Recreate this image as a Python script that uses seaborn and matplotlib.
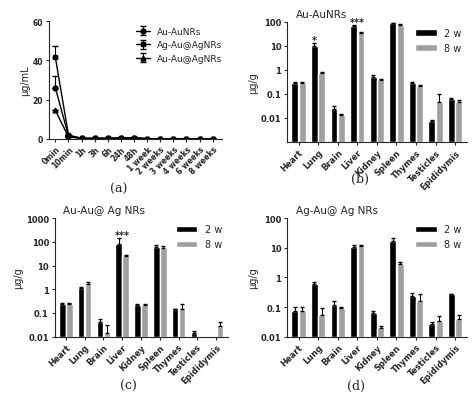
import numpy as np
import matplotlib
matplotlib.use("Agg")
import matplotlib.pyplot as plt
import seaborn as sns

sns.set_style("ticks")
plt.rcParams['font.family'] = ['DejaVu Sans']

# panel (a): blood concentration over time
times = ["0min", "10min", "1h", "3h", "6h", "24h", "48h", "1 week", "2 weeks",
         "3 weeks", "4 weeks", "6 weeks", "8 weeks"]
au_aunrs = [26, 1.5, 0.3, 0.3, 0.3, 0.4, 0.5, 0.1, 0.05, 0.05, 0.05, 0.05, 0.05]
au_aunrs_err = [6, 0.5, 0.1, 0.1, 0.1, 0.2, 0.3, 0.05, 0, 0, 0, 0, 0]
ag_auagnrs = [41.5, 2.0, 0.3, 0.4, 0.3, 0.5, 0.6, 0.1, 0.05, 0.05, 0.05, 0.05, 0.05]
ag_auagnrs_err = [6, 0.6, 0.1, 0.1, 0.1, 0.2, 0.3, 0.05, 0, 0, 0, 0, 0]
au_auagnrs = [14.5, 1.0, 0.2, 0.2, 0.2, 0.3, 0.4, 0.1, 0.05, 0.05, 0.05, 0.05, 0.05]
au_auagnrs_err = [0, 0.4, 0.1, 0.1, 0.1, 0.1, 0.2, 0.05, 0, 0, 0, 0, 0]

organs = ["Heart", "Lung", "Brain", "Liver", "Kidney", "Spleen", "Thymes",
          "Testicles", "Epididymis"]

b_2w = [0.27, 9.5, 0.024, 65, 0.5, 90, 0.28, 0.0075, 0.06]
b_2w_err = [0.03, 3, 0.008, 5, 0.12, 0, 0.02, 0.0005, 0.006]
b_8w = [0.27, 0.7, 0.013, 34, 0.38, 75, 0.22, 0.045, 0.045]
b_8w_err = [0.05, 0.1, 0.002, 4, 0.04, 2, 0.02, 0.055, 0.01]

c_2w = [0.25, 1.15, 0.043, 80, 0.22, 60, 0.15, 0.015, np.nan]
c_2w_err = [0.02, 0.05, 0.015, 60, 0.01, 10, 0, 0.002, 0]
c_8w = [0.25, 1.7, 0.014, 26, 0.22, 55, 0.14, np.nan, 0.028]
c_8w_err = [0.02, 0.4, 0.018, 2, 0.01, 10, 0.11, 0, 0.013]

d_2w = [0.075, 0.6, 0.12, 11, 0.063, 17, 0.24, 0.026, 0.28]
d_2w_err = [0.025, 0.1, 0.04, 1, 0.01, 5, 0.05, 0.006, 0]
d_8w = [0.075, 0.055, 0.092, 11.5, 0.019, 2.8, 0.16, 0.033, 0.04]
d_8w_err = [0.025, 0.04, 0.005, 0.8, 0.004, 0.6, 0.11, 0.015, 0.012]

fig = plt.figure(figsize=(4.74, 4.02), dpi=100)


def style(ax, size=6):
    for s in ["top", "right"]:
        ax.spines[s].set_visible(False)
    ax.tick_params(axis="both", length=2.5, width=0.8, labelsize=size, pad=1.5)
    for lab in ax.get_xticklabels() + ax.get_yticklabels():
        lab.set_fontweight("bold")


# ---- panel a
ax = fig.add_axes([0.103, 0.652, 0.365, 0.293])
x = np.arange(len(times))
for vals, err, mk, lab in [(au_aunrs, au_aunrs_err, "o", "Au-AuNRs"),
                           (ag_auagnrs, ag_auagnrs_err, "s", "Ag-Au@AgNRs"),
                           (au_auagnrs, au_auagnrs_err, "^", "Au-Au@AgNRs")]:
    ax.errorbar(x, vals, yerr=[np.zeros(len(err)), err], color="black", marker=mk,
                markersize=3.5, lw=1, capsize=2, elinewidth=0.8, label=lab)
ax.set_xticks(x)
ax.set_xticklabels(times, rotation=45, ha="right", rotation_mode="anchor")
ax.set_xlim(-0.5, len(times) - 0.3)
ax.set_ylim(0, 60)
ax.set_yticks([0, 20, 40, 60])
ax.set_ylabel("μg/mL", fontsize=7, labelpad=2)
ax.legend(frameon=False, fontsize=6.5, loc="upper right", handlelength=1.5,
          bbox_to_anchor=(1.05, 1.02))
style(ax, 5.5)
fig.text(0.25, 0.52, "(a)", ha="center", fontsize=9, family="DejaVu Serif")


def bar_panel(rect, v2, e2, v8, e8, title, ylim, yticks, stars, label, lpos):
    ax = fig.add_axes(rect)
    ax.set_yscale("log")
    xs = np.arange(len(organs))
    w = 0.38
    for off, vals, errs, col, lab in [(-w / 2, v2, e2, "black", "2 w"),
                                      (w / 2, v8, e8, "#a0a0a0", "8 w")]:
        vals = np.array(vals, dtype=float)
        h = np.where(np.isnan(vals), 0, vals - ylim[0])
        ax.bar(xs + off, h, width=w * 0.92, bottom=ylim[0], color=col, label=lab)
        ok = ~np.isnan(vals)
        ax.errorbar((xs + off)[ok], vals[ok],
                    yerr=[np.zeros(ok.sum()), np.array(errs)[ok]],
                    fmt="none", ecolor="black", capsize=1.5, elinewidth=0.8)
    for i, s, yv in stars:
        ax.text(i, yv, s, ha="center", fontsize=7, fontweight="bold")
    ax.set_ylim(*ylim)
    ax.set_yticks(yticks)
    ax.set_yticklabels([f"{t:g}" for t in yticks])
    ax.minorticks_off()
    ax.set_ylabel("μg/g", fontsize=7, labelpad=2)
    ax.set_xticks(xs)
    ax.set_xticklabels(organs, rotation=45, ha="right", rotation_mode="anchor")
    ax.set_xlim(-0.6, len(organs) - 0.4)
    ax.legend(frameon=False, fontsize=7, loc="upper right", handlelength=2.2,
              bbox_to_anchor=(1.02, 1.02))
    ax.set_title(title, fontsize=7.5, loc="left", x=0.05, y=0.97)
    style(ax, 6)
    fig.text(lpos[0], lpos[1], label, ha="center", fontsize=9, family="DejaVu Serif")


bar_panel([0.605, 0.644, 0.38, 0.30], b_2w, b_2w_err, b_8w, b_8w_err, "Au-AuNRs",
          (0.001, 100), [0.01, 0.1, 1, 10, 100],
          [(-0.2 + 1, "*", 13), (3, "***", 75)], "(b)", (0.76, 0.545))
bar_panel([0.115, 0.16, 0.365, 0.295], c_2w, c_2w_err, c_8w, c_8w_err, "Au-Au@ Ag NRs",
          (0.01, 1000), [0.01, 0.1, 1, 10, 100, 1000],
          [(3, "***", 150)], "(c)", (0.27, 0.03))
bar_panel([0.605, 0.16, 0.38, 0.295], d_2w, d_2w_err, d_8w, d_8w_err, "Ag-Au@ Ag NRs",
          (0.01, 100), [0.01, 0.1, 1, 10, 100],
          [], "(d)", (0.75, 0.03))

fig.savefig("out.png", dpi=100)
